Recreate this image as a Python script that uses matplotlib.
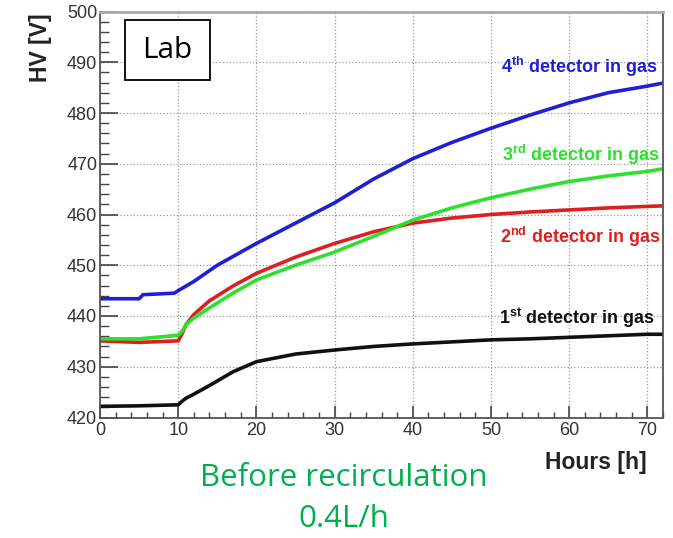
import matplotlib.pyplot as plt
from matplotlib.patches import Rectangle
from matplotlib.ticker import MultipleLocator

plt.rcParams['font.family'] = ['Liberation Sans', 'DejaVu Sans']
plt.rcParams['mathtext.fontset'] = 'custom'
plt.rcParams['mathtext.bf'] = 'Liberation Sans:bold'
plt.rcParams['mathtext.rm'] = 'Liberation Sans'

# HV readings (V) for each detector vs time (h)
hours_4 = [0, 5, 5.5, 9.5, 10, 12, 15, 20, 25, 30, 35, 40, 45, 50, 55, 60, 65, 70, 72]
hv_4 = [443.4, 443.4, 444.2, 444.5, 445.0, 446.8, 450.0, 454.3, 458.3, 462.3,
        467.0, 471.0, 474.2, 477.0, 479.6, 482.0, 484.0, 485.3, 485.9]

hours = [0, 5, 10, 10.5, 11, 12, 14, 17, 20, 25, 30, 35, 40, 45, 50, 55, 60, 65, 70, 72]
hv_3 = [435.5, 435.5, 436.2, 437.0, 438.3, 439.6, 441.6, 444.5, 447.1, 450.0, 452.6,
        455.7, 458.9, 461.3, 463.3, 465.0, 466.5, 467.6, 468.5, 469.0]
hv_2 = [435.1, 434.8, 435.1, 436.5, 438.3, 440.3, 443.0, 445.9, 448.4, 451.6, 454.3,
        456.6, 458.3, 459.3, 460.0, 460.5, 460.9, 461.3, 461.6, 461.7]
hv_1 = [422.2, 422.3, 422.5, 423.2, 423.8, 424.6, 426.3, 429.0, 431.0, 432.5, 433.3,
        434.0, 434.5, 434.9, 435.3, 435.5, 435.8, 436.1, 436.4, 436.4]

blue = '#1f1fd6'
green = '#2ee02e'
red = '#dc2020'
black = '#111111'

fig = plt.figure(figsize=(6.73, 5.38), dpi=100)
ax = fig.add_axes([100 / 673, 1 - 417.5 / 538, 563 / 673, 406 / 538])

ax.plot(hours_4, hv_4, color=blue, lw=2.6)
ax.plot(hours, hv_2, color=red, lw=2.6)
ax.plot(hours, hv_3, color=green, lw=2.6)
ax.plot(hours, hv_1, color=black, lw=2.6)

ax.set_xlim(0, 72)
ax.set_ylim(420, 500)
ax.xaxis.set_major_locator(MultipleLocator(10))
ax.xaxis.set_minor_locator(MultipleLocator(2))
ax.yaxis.set_major_locator(MultipleLocator(10))
ax.yaxis.set_minor_locator(MultipleLocator(2))
ax.grid(True, which='major', color='#999999', linestyle=':', lw=0.9)

ax.tick_params(axis='y', which='major', direction='in', length=13, width=1.2,
               color='#444444', labelsize=13, labelcolor='#333333', pad=2)
ax.tick_params(axis='y', which='minor', direction='in', length=6.5, width=1.0, color='#444444')
ax.tick_params(axis='x', which='major', direction='in', length=8.6, width=1.2,
               color='#444444', labelsize=13, labelcolor='#333333', pad=3)
ax.tick_params(axis='x', which='minor', direction='in', length=4.3, width=1.0, color='#444444')

for side in ['left', 'bottom', 'right']:
    ax.spines[side].set_color('#555555')
    ax.spines[side].set_linewidth(1.3)
ax.spines['top'].set_color('#aaaaaa')
ax.spines['top'].set_linewidth(2.0)

# curve labels
ax.text(71.3, 489.0, r'4$^{\mathbf{th}}$ detector in gas', color=blue, fontsize=13,
        fontweight='bold', ha='right', va='center')
ax.text(71.6, 471.8, r'3$^{\mathbf{rd}}$ detector in gas', color=green, fontsize=13,
        fontweight='bold', ha='right', va='center')
ax.text(71.6, 455.6, r'2$^{\mathbf{nd}}$ detector in gas', color=red, fontsize=13,
        fontweight='bold', ha='right', va='center')
ax.text(71.0, 439.6, r'1$^{\mathbf{st}}$ detector in gas', color=black, fontsize=13,
        fontweight='bold', ha='right', va='center')

# axis titles
fig.text(40 / 673, 1 - 13 / 538, 'HV [V]', rotation=90, ha='center', va='top',
         fontsize=16.5, fontweight='bold', color='#222222')
fig.text(647 / 673, 1 - 462 / 538, 'Hours [h]', ha='right', va='center',
         fontsize=16.5, fontweight='bold', color='#222222')

# "Lab" box
fig.patches.append(Rectangle((125 / 673, 1 - 80 / 538), 85 / 673, 60 / 538,
                             transform=fig.transFigure, facecolor='white',
                             edgecolor='black', lw=1.3, zorder=5))
fig.text(167.5 / 673, 1 - 51 / 538, 'Lab', ha='center', va='center', fontsize=21.5,
         family='Open Sans', zorder=6)

fig.text(344 / 673, 1 - 478 / 538, 'Before recirculation', ha='center', va='center',
         fontsize=22.5, family='Open Sans', color='#00b050')
fig.text(344 / 673, 1 - 519 / 538, '0.4L/h', ha='center', va='center',
         fontsize=22.5, family='Open Sans', color='#00b050')

fig.savefig('out.png', dpi=100)
